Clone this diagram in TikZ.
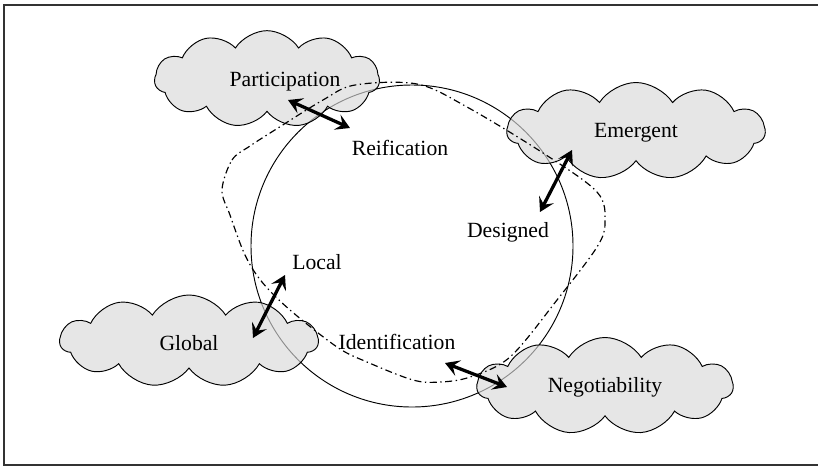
\documentclass[tikz,border=0pt]{standalone}
\usepackage{fontspec}
\setmainfont{Liberation Serif}
\usetikzlibrary{shapes.symbols,arrows.meta}

\begin{document}
\begin{tikzpicture}[x=0.03cm, y=-0.03cm,
  cloudy/.style={cloud, cloud puffs=11, cloud puff arc=115, cloud ignores aspect, draw, line width=0.8pt,
    fill=black!15, fill opacity=0.65, inner sep=0pt},
  lbl/.style={font=\fontsize{18.5}{22}\selectfont, inner sep=1pt},
  dbl/.style={arrows={Stealth[length=12pt,width=14pt,inset=5pt]-Stealth[length=12pt,width=14pt,inset=5pt]}, line width=2.8pt},
  dashdot/.style={line width=1pt, dash pattern=on 6pt off 3pt on 1.2pt off 3pt}]
  \useasboundingbox (0,0) rectangle (818,467);
  \draw[line width=0.9pt, black!80] (818,5) -- (4,5) -- (4,465) -- (818,465);

  \draw[line width=0.8pt] (412,246) circle (161);

  \node[cloudy, minimum width=6.75cm, minimum height=2.9cm] (partcloud) at (267,79) {};
  \node[cloudy, minimum width=7.74cm, minimum height=2.91cm] (emercloud) at (636,131) {};
  \node[cloudy, minimum width=7.74cm, minimum height=2.76cm] (globcloud) at (189,341) {};
  \node[cloudy, minimum width=7.68cm, minimum height=2.91cm] (negocloud) at (605,386) {};

  \draw[dashdot] plot[smooth cycle, tension=0.55] coordinates {(222,190) (232,160) (250,146) (278,128) (323,100) (355,85)
    (417,84) (467,107) (543,153) (597,192) (605,222) (597,247) (557,300) (510,357) (470,377) (440,382) (413,380)
    (367,362) (337,347) (290,310) (262,282) (245,255) (230,215)};

  \node[lbl] (part) at (285,82) {Participation};
  \node[lbl] (reif) at (400,148) {Reification};
  \node[lbl] (emer) at (636,133) {Emergent};
  \node[lbl] (desi) at (508,232) {Designed};
  \node[lbl] (loca) at (317,262) {Local};
  \node[lbl] (glob) at (189,343) {Global};
  \node[lbl] (iden) at (397,342) {Identification};
  \node[lbl] (nego) at (605,387) {Negotiability};

  \coordinate (pa) at (288,100);
  \coordinate (re) at (350,128);
  \coordinate (em) at (572,150);
  \coordinate (de) at (540,212);
  \coordinate (gl) at (253,338);
  \coordinate (lo) at (285,275);
  \coordinate (id) at (445,363);
  \coordinate (ne) at (507,387);
  \draw[dbl] (pa) -- (re);
  \draw[dbl] (em) -- (de);
  \draw[dbl] (gl) -- (lo);
  \draw[dbl] (id) -- (ne);
\end{tikzpicture}
\end{document}
